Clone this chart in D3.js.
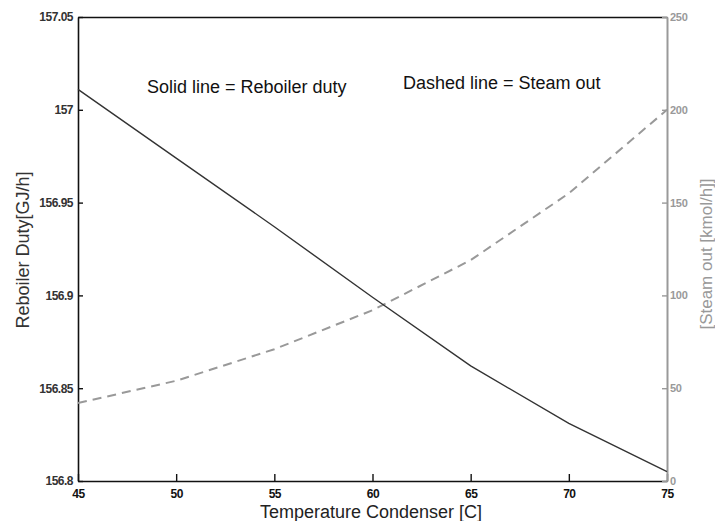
<!DOCTYPE html>
<html>
<head>
<meta charset="utf-8">
<script src="https://cdn.jsdelivr.net/npm/d3@7"></script>
<style>
  body { margin: 0; background: #fff; }
  svg { display: block; font-family: "Liberation Sans", Arial, Helvetica, sans-serif; }
</style>
</head>
<body>
<div id="chart"></div>
<script>
// data
const temps = [45, 50, 55, 60, 65, 70, 75];
const reboilerDuty = [157.011, 156.974, 156.937, 156.899, 156.862, 156.831, 156.805];
const steamOut = [42, 54, 71, 92, 119, 155, 200];

const xTicks = [45, 50, 55, 60, 65, 70, 75];
const yLeftTicks = [156.8, 156.85, 156.9, 156.95, 157, 157.05];
const yRightTicks = [0, 50, 100, 150, 200, 250];

const w = 715, h = 521;
const m = {left: 78, right: 48, top: 17, bottom: 40};
const gray = "#999";

const svg = d3.select("#chart").append("svg")
    .attr("width", w).attr("height", h);

const x = d3.scaleLinear().domain([45, 75]).range([m.left, w - m.right]);
const yL = d3.scaleLinear().domain([156.8, 157.05]).range([h - m.bottom, m.top]);
const yR = d3.scaleLinear().domain([0, 250]).range([h - m.bottom, m.top]);

const fmt = d3.format("~g");

// top frame line
svg.append("g")
    .attr("transform", "translate(0," + m.top + ")")
    .call(d3.axisTop(x).tickValues([]).tickSizeOuter(0))
    .call(g => g.select(".domain").attr("stroke", "#111").attr("stroke-width", 1.6));

// bottom axis
svg.append("g")
    .attr("transform", "translate(0," + (h - m.bottom) + ")")
    .call(d3.axisBottom(x).tickValues(xTicks).tickFormat(fmt).tickSize(-7).tickPadding(8).tickSizeOuter(0))
    .call(g => g.select(".domain").attr("stroke", "#111").attr("stroke-width", 1.6))
    .call(g => g.selectAll(".tick line").attr("stroke", "#111").attr("stroke-width", 1.4))
    .call(g => g.selectAll("text").attr("fill", "#111").attr("font-size", 12)
        .attr("font-weight", "bold").attr("letter-spacing", "-0.5px"));

// left axis
svg.append("g")
    .attr("transform", "translate(" + m.left + ",0)")
    .call(d3.axisLeft(yL).tickValues(yLeftTicks).tickFormat(fmt).tickSize(-5).tickPadding(5).tickSizeOuter(0))
    .call(g => g.select(".domain").attr("stroke", "#111").attr("stroke-width", 1.6))
    .call(g => g.selectAll(".tick line").attr("stroke", "#111").attr("stroke-width", 1.4))
    .call(g => g.selectAll("text").attr("fill", "#333").attr("font-size", 12)
        .attr("font-weight", "bold").attr("letter-spacing", "-0.5px"));

// right axis (grey)
svg.append("g")
    .attr("transform", "translate(" + (w - m.right) + ",0)")
    .call(d3.axisRight(yR).tickValues(yRightTicks).tickSize(-5).tickPadding(3).tickSizeOuter(0))
    .call(g => g.select(".domain").attr("stroke", gray).attr("stroke-width", 2))
    .call(g => g.selectAll(".tick line").attr("stroke", gray).attr("stroke-width", 1.4))
    .call(g => g.selectAll("text").attr("fill", gray).attr("font-size", 11)
        .attr("font-weight", "bold").attr("letter-spacing", "-0.3px"));

// lines
const solid = d3.line().x((d, i) => x(temps[i])).y(d => yL(d));
const dashed = d3.line().x((d, i) => x(temps[i])).y(d => yR(d));

svg.append("path").datum(steamOut)
    .attr("d", dashed).attr("fill", "none")
    .attr("stroke", gray).attr("stroke-width", 2).attr("stroke-dasharray", "9,6");

svg.append("path").datum(reboilerDuty)
    .attr("d", solid).attr("fill", "none")
    .attr("stroke", "#333").attr("stroke-width", 1.4);

// titles
svg.append("text")
    .attr("transform", "translate(23,250) rotate(-90)")
    .attr("text-anchor", "middle").attr("dominant-baseline", "central")
    .attr("font-size", 18).attr("fill", "#333")
    .text("Reboiler Duty[GJ/h]");

svg.append("text")
    .attr("transform", "translate(706,254) rotate(-90)")
    .attr("text-anchor", "middle").attr("dominant-baseline", "central")
    .attr("font-size", 17).attr("fill", gray)
    .text("[Steam out [kmol/h]]");

svg.append("text")
    .attr("x", 371).attr("y", 518)
    .attr("text-anchor", "middle")
    .attr("font-size", 18).attr("fill", "#222")
    .text("Temperature Condenser [C]");

// annotations
svg.append("text")
    .attr("x", 147).attr("y", 93)
    .attr("font-size", 18).attr("fill", "#111")
    .text("Solid line = Reboiler duty");

svg.append("text")
    .attr("x", 403).attr("y", 89)
    .attr("font-size", 18).attr("fill", "#111")
    .text("Dashed line = Steam out");
</script>
</body>
</html>
